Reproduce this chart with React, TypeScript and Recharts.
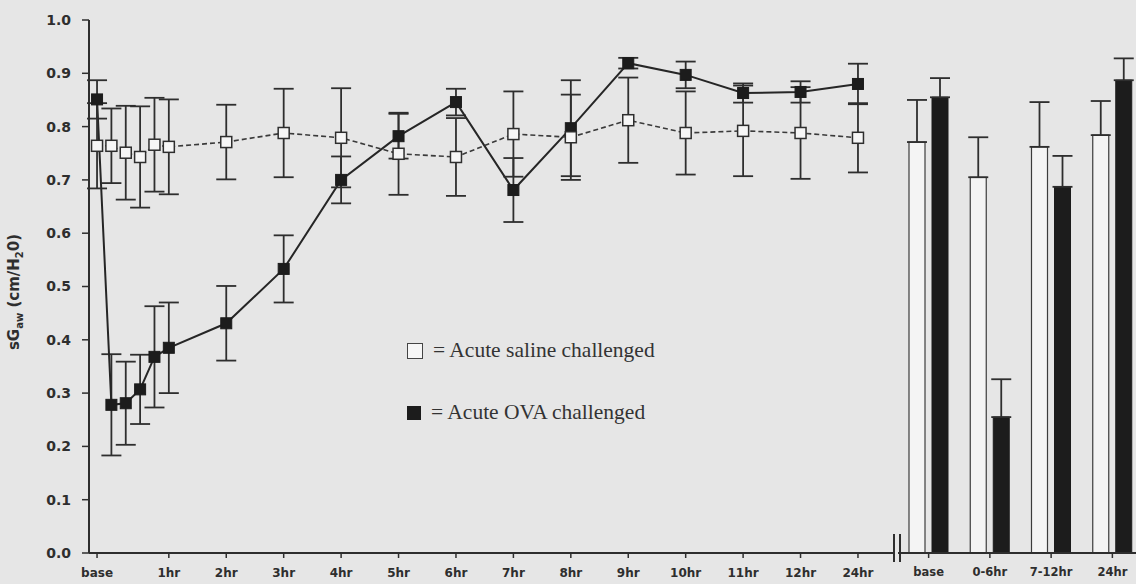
import React from 'react';
import { LineChart, Line, XAxis, YAxis, ErrorBar, BarChart, Bar, Label } from 'recharts';

// time course (x position in hours, base drawn a quarter before 0, 24hr drawn at slot 13)
const timePoints = [-0.25, 0, 0.25, 0.5, 0.75, 1, 2, 3, 4, 5, 6, 7, 8, 9, 10, 11, 12, 13];
const salineMean = [0.764, 0.764, 0.751, 0.743, 0.766, 0.762, 0.771, 0.788, 0.779, 0.749, 0.743, 0.786, 0.78, 0.812, 0.788, 0.792, 0.788, 0.779];
const salineSem = [0.08, 0.07, 0.088, 0.095, 0.088, 0.089, 0.07, 0.083, 0.093, 0.077, 0.073, 0.08, 0.08, 0.08, 0.078, 0.085, 0.086, 0.065];
const ovaMean = [0.851, 0.278, 0.281, 0.307, 0.368, 0.385, 0.431, 0.533, 0.7, 0.782, 0.846, 0.681, 0.797, 0.919, 0.897, 0.863, 0.865, 0.88];
const ovaSem = [0.036, 0.095, 0.078, 0.065, 0.095, 0.085, 0.07, 0.063, 0.044, 0.042, 0.025, 0.06, 0.09, 0.01, 0.025, 0.018, 0.02, 0.038];

const timeTicks = [-0.25, 1, 2, 3, 4, 5, 6, 7, 8, 9, 10, 11, 12, 13];
const timeTickLabels = ['base', '1hr', '2hr', '3hr', '4hr', '5hr', '6hr', '7hr', '8hr', '9hr', '10hr', '11hr', '12hr', '24hr'];
const yTicks = [0, 0.1, 0.2, 0.3, 0.4, 0.5, 0.6, 0.7, 0.8, 0.9, 1.0];

// grouped periods
const periods = ['base', '0-6hr', '7-12hr', '24hr'];
const periodSaline = [0.771, 0.705, 0.762, 0.784];
const periodSalineSem = [0.079, 0.075, 0.084, 0.064];
const periodOva = [0.855, 0.255, 0.687, 0.887];
const periodOvaSem = [0.036, 0.071, 0.058, 0.041];

const lineData = timePoints.map((t, i) => ({
  t,
  saline: salineMean[i],
  salineErr: salineSem[i],
  ova: ovaMean[i],
  ovaErr: ovaSem[i],
}));

const barData = periods.map((p, i) => ({
  period: p,
  saline: periodSaline[i],
  salineErr: [0, periodSalineSem[i]],
  ova: periodOva[i],
  ovaErr: [0, periodOvaSem[i]],
}));

const INK = '#2e2e2e';
const BG = '#e6e6e6';
const tickFont = { fontFamily: 'DejaVu Sans', fontWeight: 'bold', fill: INK };

const SalineDot = (p: any) => {
  if (p.cx == null || p.cy == null) return <g key={`sd-${p.index}`} />;
  return <rect key={`sd-${p.index}`} x={p.cx - 5.5} y={p.cy - 5.5} width={11} height={11} fill="#f6f6f6" stroke={INK} strokeWidth={1.5} />;
};

const OvaDot = (p: any) => {
  if (p.cx == null || p.cy == null) return <g key={`od-${p.index}`} />;
  return <rect key={`od-${p.index}`} x={p.cx - 5.5} y={p.cy - 5.5} width={11} height={11} fill="#1c1c1c" stroke="#1c1c1c" strokeWidth={1} />;
};

const YLabel = () => (
  <text x={19} y={292} transform="rotate(-90 19 292)" textAnchor="middle" fontFamily="DejaVu Sans" fontWeight="bold" fontSize={15} fill={INK}>
    sG<tspan dy={4} fontSize={10}>aw</tspan>
    <tspan dy={-4}> (cm/H</tspan>
    <tspan dy={4} fontSize={10}>2</tspan>
    <tspan dy={-4}>0)</tspan>
  </text>
);

const legendRow: React.CSSProperties = {
  position: 'absolute',
  left: 407,
  display: 'flex',
  alignItems: 'center',
  fontFamily: '"Liberation Serif", "Times New Roman", serif',
  fontSize: 21.5,
  color: '#333',
  whiteSpace: 'nowrap',
};

export default function App() {
  return (
    <div style={{ position: 'absolute', left: 0, top: 0, width: 1136, height: 584, background: BG, overflow: 'hidden' }}>
      <div style={{ position: 'absolute', left: 0, top: 0 }}>
        <LineChart width={900} height={584} data={lineData} margin={{ top: 20, right: 7, bottom: 0, left: 0 }}>
          <XAxis
            dataKey="t"
            type="number"
            domain={[-0.39, 13.61]}
            allowDataOverflow
            ticks={timeTicks}
            interval={0}
            tickFormatter={(v: number) => timeTickLabels[timeTicks.indexOf(v)] ?? ''}
            height={31}
            tickSize={5}
            tickMargin={10}
            tick={{ ...tickFont, fontSize: 12 }}
            axisLine={{ stroke: INK, strokeWidth: 2 }}
            tickLine={{ stroke: INK, strokeWidth: 1.5 }}
          />
          <YAxis
            type="number"
            domain={[0, 1]}
            ticks={yTicks}
            interval={0}
            width={89}
            tickSize={7}
            tickMargin={11}
            tickFormatter={(v: number) => v.toFixed(1)}
            tick={{ ...tickFont, fontSize: 14 }}
            axisLine={{ stroke: INK, strokeWidth: 2 }}
            tickLine={{ stroke: INK, strokeWidth: 1.5 }}
          >
            <Label content={<YLabel />} />
          </YAxis>
          <Line
            dataKey="ova"
            stroke="#262626"
            strokeWidth={2}
            dot={OvaDot}
            activeDot={false}
            isAnimationActive={false}
          >
            <ErrorBar dataKey="ovaErr" direction="y" width={10} stroke={INK} strokeWidth={1.8} />
          </Line>
          <Line
            dataKey="saline"
            stroke="#3a3a3a"
            strokeWidth={1.6}
            strokeDasharray="5 3"
            dot={SalineDot}
            activeDot={false}
            isAnimationActive={false}
          >
            <ErrorBar dataKey="salineErr" direction="y" width={10} stroke={INK} strokeWidth={1.8} />
          </Line>
        </LineChart>
      </div>

      {/* axis break */}
      <svg style={{ position: 'absolute', left: 890, top: 532 }} width={14} height={32}>
        <line x1={4} y1={2} x2={4} y2={30} stroke={INK} strokeWidth={2} />
        <line x1={10} y1={2} x2={10} y2={30} stroke={INK} strokeWidth={2} />
      </svg>

      <div style={{ position: 'absolute', left: 898, top: 0 }}>
        <BarChart width={245} height={584} data={barData} margin={{ top: 20, right: 0, bottom: 0, left: 0 }} barSize={16} barGap={7}>
          <XAxis
            dataKey="period"
            height={31}
            tickSize={5}
            tickMargin={10}
            interval={0}
            tick={{ ...tickFont, fontSize: 11.5 }}
            axisLine={{ stroke: INK, strokeWidth: 2 }}
            tickLine={{ stroke: INK, strokeWidth: 1.5 }}
          />
          <YAxis hide domain={[0, 1]} />
          <Bar dataKey="saline" fill="#f4f4f4" stroke="#3c3c3c" strokeWidth={1.2} isAnimationActive={false}>
            <ErrorBar dataKey="salineErr" direction="y" width={10} stroke={INK} strokeWidth={1.8} />
          </Bar>
          <Bar dataKey="ova" fill="#1c1c1c" stroke="#1c1c1c" strokeWidth={1} isAnimationActive={false}>
            <ErrorBar dataKey="ovaErr" direction="y" width={10} stroke={INK} strokeWidth={1.8} />
          </Bar>
        </BarChart>
      </div>

      <div style={{ ...legendRow, top: 338 }}>
        <span style={{ display: 'inline-block', width: 14, height: 14, border: '1px solid #444', background: '#f6f6f6', marginRight: 10 }} />
        <span>= Acute saline challenged</span>
      </div>
      <div style={{ ...legendRow, top: 400 }}>
        <span style={{ display: 'inline-block', width: 14, height: 14, background: '#1c1c1c', marginRight: 10 }} />
        <span>= Acute OVA challenged</span>
      </div>
    </div>
  );
}
